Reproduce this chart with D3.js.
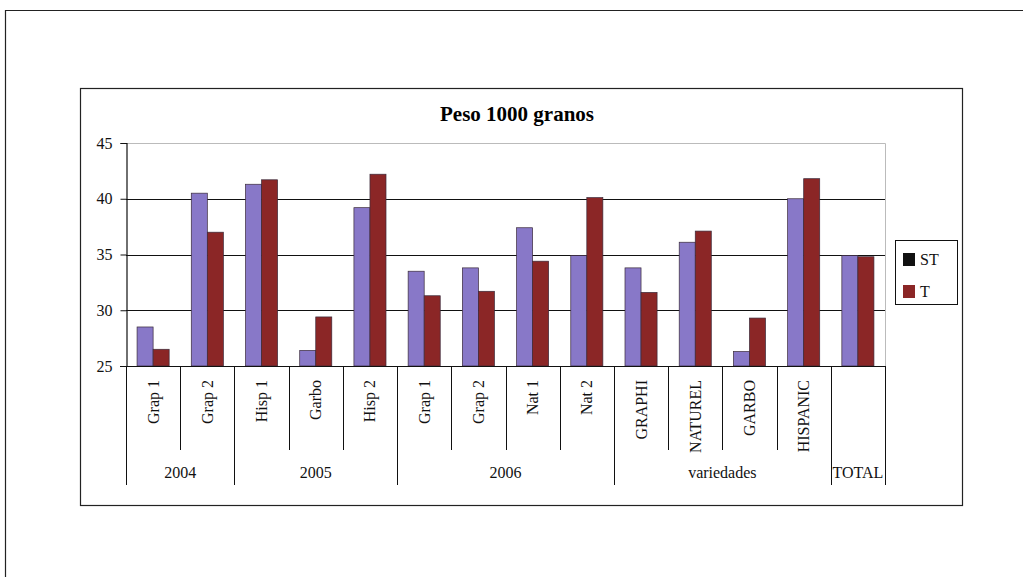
<!DOCTYPE html>
<html>
<head>
<meta charset="utf-8">
<script src="https://cdn.jsdelivr.net/npm/d3@7/dist/d3.min.js"></script>
<style>
  html, body { margin: 0; padding: 0; background: #fff; }
  svg { display: block; font-family: "Liberation Serif", "DejaVu Serif", serif; }
</style>
</head>
<body>
<svg id="chart" width="1023" height="577"></svg>
<script>
const TITLE = 'Peso 1000 granos';
const categories = ['Grap 1', 'Grap 2', 'Hisp 1', 'Garbo', 'Hisp 2', 'Grap 1', 'Grap 2',
                    'Nat 1', 'Nat 2', 'GRAPHI', 'NATUREL', 'GARBO', 'HISPANIC', ''];
const groupNames = ['2004', '2005', '2006', 'variedades', 'TOTAL'];
const groupSizes = [2, 3, 4, 4, 1];
const seriesNames = ['ST', 'T'];
const valuesST = [28.5, 40.5, 41.3, 26.4, 39.2, 33.5, 33.8, 37.4, 34.9, 33.8, 36.1, 26.3, 40.0, 34.9];
const valuesT  = [26.5, 37.0, 41.7, 29.4, 42.2, 31.3, 31.7, 34.4, 40.1, 31.6, 37.1, 29.3, 41.8, 34.8];
const yTicks = [25, 30, 35, 40, 45];

const BAR_COLORS = { ST: '#8878c8', T: '#8b2626' };
const LEGEND_COLORS = { ST: '#111111', T: '#8b2626' };
const FONT_SIZE = 16;

const svg = d3.select('#chart');

// page frame + chart frame
svg.append('path')
    .attr('d', 'M5.5,577 V10.5 H1023')
    .attr('fill', 'none').attr('stroke', '#222').attr('stroke-width', 1.2);
svg.append('rect')
    .attr('x', 80.5).attr('y', 88.5).attr('width', 882).attr('height', 417)
    .attr('fill', 'none').attr('stroke', '#222').attr('stroke-width', 1.2);

const plot = { left: 126, right: 885, top: 143, bottom: 366 };

const x = d3.scaleBand()
    .domain(d3.range(categories.length))
    .range([plot.left, plot.right])
    .padding(0);

const xs = d3.scaleBand()
    .domain(seriesNames)
    .range([0, x.bandwidth()])
    .paddingInner(0)
    .paddingOuter(0.69);

const y = d3.scaleLinear()
    .domain([25, 45])
    .range([plot.bottom, plot.top]);

// title
svg.append('text')
    .attr('x', 517).attr('y', 121)
    .attr('text-anchor', 'middle')
    .attr('font-size', 21).attr('font-weight', 'bold')
    .text(TITLE);

// plot border (light) and gridlines
svg.append('path')
    .attr('d', `M${plot.left},${y(45) + 0.5} H${plot.right + 0.5} V${plot.bottom}`)
    .attr('fill', 'none').attr('stroke', '#bbb').attr('stroke-width', 1);

svg.append('g')
    .selectAll('line')
    .data(yTicks.filter(t => t > 25 && t < 45))
    .join('line')
    .attr('x1', plot.left).attr('x2', plot.right)
    .attr('y1', d => Math.round(y(d)) + 0.5).attr('y2', d => Math.round(y(d)) + 0.5)
    .attr('stroke', '#111').attr('stroke-width', 1.2);

// bars
const series = [
    { name: 'ST', values: valuesST },
    { name: 'T', values: valuesT }
];

series.forEach(s => {
    svg.append('g')
        .selectAll('rect')
        .data(s.values)
        .join('rect')
        .attr('x', (d, i) => x(i) + xs(s.name))
        .attr('width', xs.bandwidth())
        .attr('y', d => y(d))
        .attr('height', d => y(25) - y(d))
        .attr('fill', BAR_COLORS[s.name])
        .attr('stroke', '#3a2a3a')
        .attr('stroke-width', 0.7);
});

// y axis
const yAxis = d3.axisLeft(y).tickValues(yTicks).tickSize(6).tickPadding(8);
const gy = svg.append('g')
    .attr('transform', `translate(${plot.left + 0.5},0)`)
    .call(yAxis);
gy.select('.domain').attr('stroke', '#111').attr('stroke-width', 1.2);
gy.selectAll('.tick line').attr('stroke', '#111');
gy.selectAll('.tick text')
    .attr('font-family', '"Liberation Serif", serif')
    .attr('font-size', FONT_SIZE).attr('fill', '#111');

// x baseline
svg.append('line')
    .attr('x1', plot.left - 6).attr('x2', plot.right)
    .attr('y1', plot.bottom + 0.5).attr('y2', plot.bottom + 0.5)
    .attr('stroke', '#111').attr('stroke-width', 1.2);

// category separators and labels
const groupBounds = [0];
groupSizes.forEach(n => groupBounds.push(groupBounds[groupBounds.length - 1] + n));
const boundarySet = new Set(groupBounds);

const sep = svg.append('g');
d3.range(categories.length + 1).forEach(i => {
    const xp = i < categories.length ? x(i) : plot.right;
    const long = boundarySet.has(i);
    sep.append('line')
        .attr('x1', Math.round(xp) + 0.5).attr('x2', Math.round(xp) + 0.5)
        .attr('y1', plot.bottom).attr('y2', long ? 485 : 450)
        .attr('stroke', '#111').attr('stroke-width', 1);
});

svg.append('g')
    .selectAll('text')
    .data(categories)
    .join('text')
    .attr('transform', (d, i) => `translate(${x(i) + x.bandwidth() / 2 + 5.5},380) rotate(-90)`)
    .attr('text-anchor', 'end')
    .attr('font-size', FONT_SIZE).attr('fill', '#111')
    .text(d => d);

svg.append('g')
    .selectAll('text')
    .data(groupNames)
    .join('text')
    .attr('x', (d, i) => {
        const a = x(groupBounds[i]);
        const b = groupBounds[i + 1] < categories.length ? x(groupBounds[i + 1]) : plot.right;
        return (a + b) / 2;
    })
    .attr('y', 478)
    .attr('text-anchor', 'middle')
    .attr('font-size', FONT_SIZE).attr('fill', '#111')
    .text(d => d);

// legend
const legend = svg.append('g');
legend.append('rect')
    .attr('x', 895.5).attr('y', 240.5).attr('width', 62).attr('height', 64)
    .attr('fill', '#fff').attr('stroke', '#111').attr('stroke-width', 1);
seriesNames.forEach((name, i) => {
    const yy = 253 + i * 32;
    legend.append('rect')
        .attr('x', 903).attr('y', yy).attr('width', 12).attr('height', 13)
        .attr('fill', LEGEND_COLORS[name]);
    legend.append('text')
        .attr('x', 920).attr('y', yy + 12)
        .attr('font-size', FONT_SIZE).attr('fill', '#111')
        .text(name);
});
</script>
</body>
</html>
